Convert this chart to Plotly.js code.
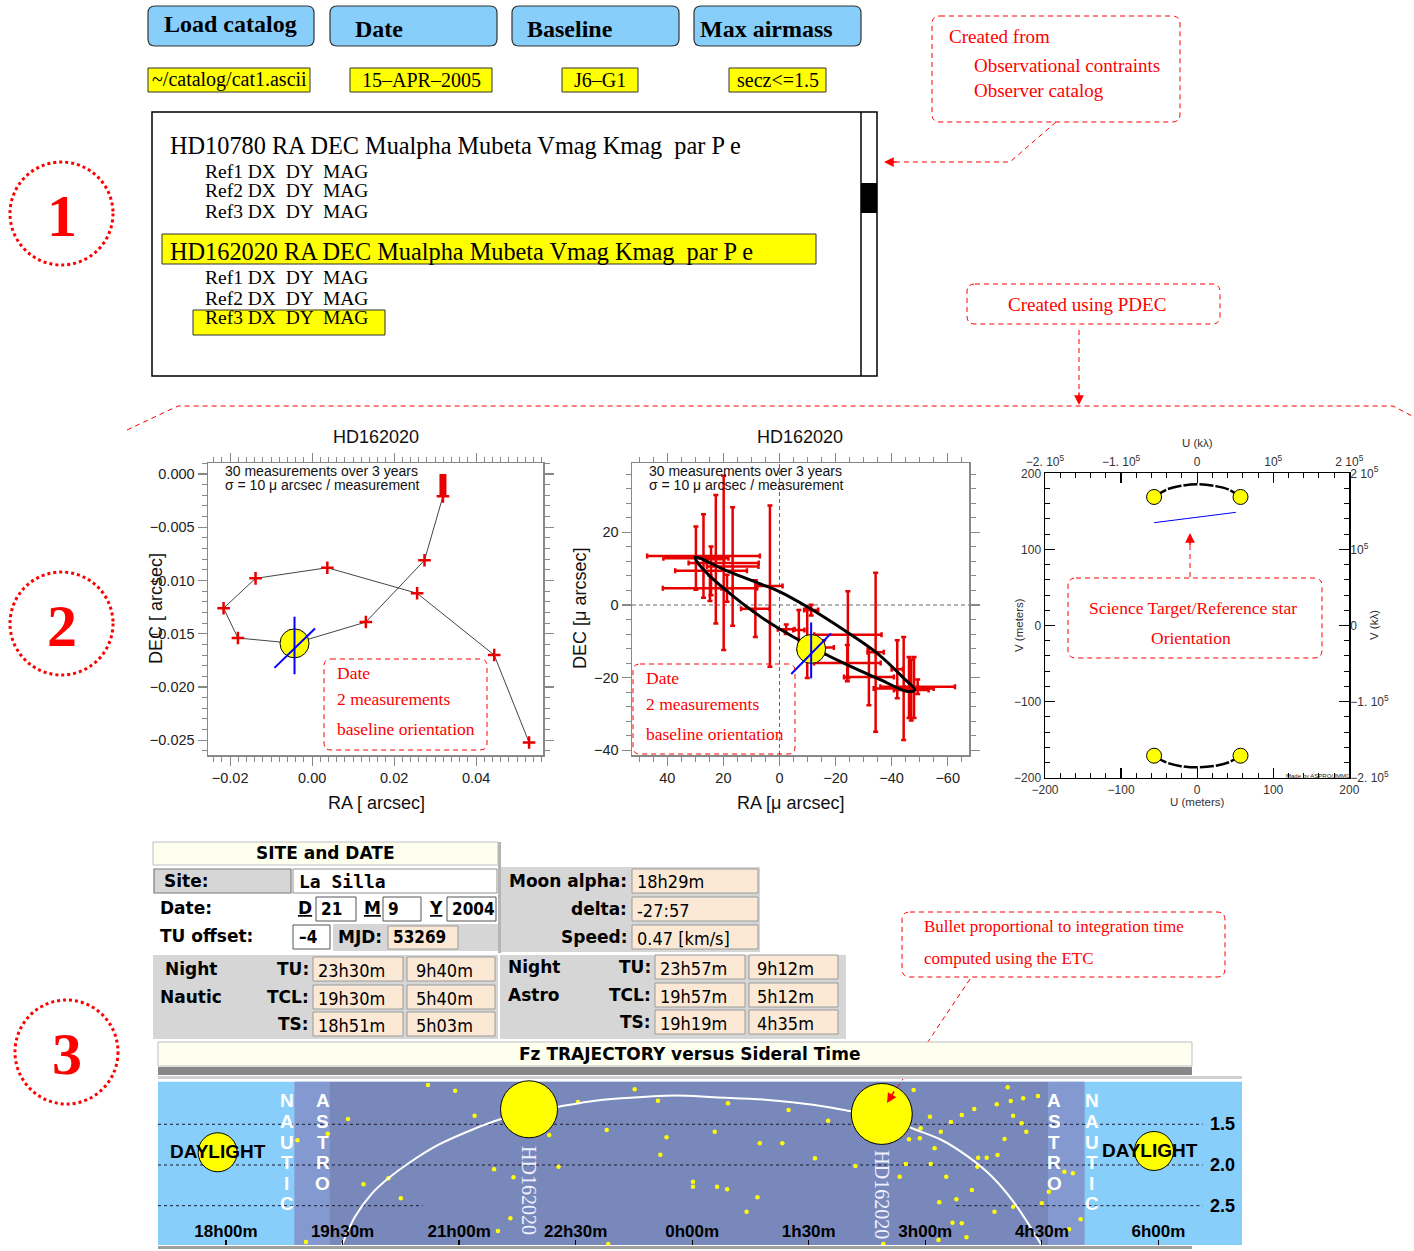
<!DOCTYPE html>
<html>
<head>
<meta charset="utf-8">
<script src="https://cdn.plot.ly/plotly-3.0.1.min.js"></script>
<style>html,body{margin:0;padding:0;background:#fff;overflow:hidden}#chart{width:1414px;height:1251px}</style>
</head>
<body>
<div id="chart"></div>
<script>
// ======================= DATA =======================
// Section 1 : catalog selection panel
const buttonLabels = ['Load catalog', 'Date', 'Baseline', 'Max airmass'];
const buttonValues = ['~/catalog/cat1.ascii', '15\u2013APR\u20132005', 'J6\u2013G1', 'secz&lt;=1.5'];
const catalogStars = ['HD10780', 'HD162020'];
const catalogFields = 'RA DEC Mualpha Mubeta Vmag Kmag  par P e';
const refStars = ['Ref1', 'Ref2', 'Ref3'];
const refFields = 'DX  DY  MAG';
const sectionNumbers = ['1', '2', '3'];
const noteCatalog = ['Created from', 'Observational contraints', 'Observer catalog'];
const notePdec = 'Created using PDEC';
const noteDate = ['Date', '2 measurements', 'baseline orientation'];
const noteUV = ['Science Target/Reference star', 'Orientation'];
const noteBullet = ['Bullet proportional to integration time', 'computed using the ETC'];
const starName = 'HD162020';
const statsText = ['30 measurements over 3 years', '\u03c3 = 10 \u03bc arcsec / measurement'];

// Section 2, plot 1 : apparent path (arcsec)
const pathRA  = [0.0529, 0.0444, 0.0256, 0.0037, -0.0138, -0.0216, -0.0181, -0.0043, 0.0131, 0.0274, 0.0319];
const pathDEC = [-0.0252, -0.0170, -0.0112, -0.0088, -0.0098, -0.0126, -0.0154, -0.0159, -0.0139, -0.0081, -0.0021];
const clusterRA  = [0.0319, 0.0320, 0.0321, 0.0320, 0.0319];
const clusterDEC = [-0.0021, -0.0016, -0.0011, -0.0005, 0.0000];
const dateA_RA = [-0.0043], dateA_DEC = [-0.0159];
const baseA_RA  = [-0.0043, -0.0043, null, -0.0092, 0.0007];
const baseA_DEC = [-0.0134, -0.0188, null, -0.0182, -0.0145];

// Section 2, plot 2 : residual orbit (micro-arcsec)
const measRA  = [27.1, 29.8, 19.9, 22.7, 24.4, 16.7, 24.8, 18.7, 3.4, 8.6, -2.4, -6.9, -9.9, -11.3, -24.4, -15.8, -24.2, -31.9, -34.3, -42.0, -44.3, -49.3, -47.0, -46.2, -48.0];
const measDEC = [13.5, 12.9, 11.6, 12.6, 9.4, 10.6, 4.6, 4.6, 5.2, -1.0, -6.7, -6.9, -10.5, -1.4, -8.2, -11.7, -16.0, -19.8, -13.0, -17.7, -23.0, -22.5, -23.4, -22.7, -22.7];
const errRA   = [20.1, 11.6, 12.5, 3.0, 12.8, 9.2, 16.8, 2.0, 4.5, 5.1, 3.0, 2.0, 2.0, 2.5, 12.0, 3.6, 11.9, 8.9, 2.9, 2.0, 10.7, 13.3, 6.2, 1.5, 1.5];
const errDEC  = [11.5, 8.7, 24.0, 17.7, 6.7, 16.3, 3.5, 3.7, 22.2, 7.8, 1.3, 5.5, 9.6, 1.5, 12.0, 2.0, 5.0, 7.8, 21.9, 8.0, 14.2, 2.0, 8.4, 8.4, 8.4];
const orbitRA  = [30.0, 18.7, 6.8, 0.0, -9.9, -23.0, -34.9, -44.4, -48.2, -45.6, -36.1, -24.2, -12.3, -2.7, 6.8, 16.3, 24.6, 29.4, 30.0];
const orbitDEC = [13.1, 9.4, 5.8, 3.7, -0.5, -6.9, -13.3, -20.2, -23.4, -23.8, -20.6, -16.5, -11.9, -7.8, -3.2, 2.3, 7.8, 11.9, 13.1];
const dateB_RA = [-11.3], dateB_DEC = [-12.1];
const baseB_RA  = [-11.3, -11.3, null, -4.2, -18.4];
const baseB_DEC = [-4.8, -20.2, null, -19.0, -7.8];

// Section 2, plot 3 : UV plane (meters)
const uvArcU    = [-56.6, -40.4, -22.8, 0.0, 23.2, 40.8, 57.0];
const uvArcV    = [168.9, 178.5, 183.3, 185.5, 183.3, 179.0, 168.9];
const uvArcLowV = [-171.1, -180.0, -184.5, -186.4, -184.5, -180.0, -171.1];
const uvEndU = [-56.6, 57.0, -56.6, 57.0];
const uvEndV = [168.9, 168.9, -171.1, -171.1];
const uvOrientU = [-56.6, 50.9];
const uvOrientV = [135.1, 148.7];
const uvTicks = [-200, -100, 0, 100, 200];
const kLambdaTicks = [-2e5, -1e5, 0, 1e5, 2e5];
const kLambdaText = ['\u22122. 10<sup>5</sup>', '\u22121. 10<sup>5</sup>', '0', '10<sup>5</sup>', '2 10<sup>5</sup>'];

// Section 3 : site & date table
const siteLabel = 'Site:', siteName = 'La Silla';
const dateParts = [['D', '21'], ['M', '9'], ['Y', '2004']];
const tuOffset = '\u20134', mjd = '53269';
const moonLabels = ['Moon alpha:', 'delta:', 'Speed:'];
const moonValues = ['18h29m', '-27:57', '0.47 [km/s]'];
const nightRows = ['TU:', 'TCL:', 'TS:'];
const nauticStart = ['23h30m', '19h30m', '18h51m'];
const nauticEnd   = ['9h40m', '5h40m', '5h03m'];
const astroStart  = ['23h57m', '19h57m', '19h19m'];
const astroEnd    = ['9h12m', '5h12m', '4h35m'];

// Section 3 : trajectory vs sidereal time (hours, airmass)
const lstTicks = [18, 19.5, 21, 22.5, 24, 25.5, 27, 28.5, 30];
const lstLabels = ['18h00m', '19h30m', '21h00m', '22h30m', '0h00m', '1h30m', '3h00m', '4h30m', '6h00m'];
const airmassLevels = [1.5, 2.0, 2.5];
const twilightLST = [18.88, 19.33, 28.58, 29.05];
const trajLST = [19.49, 19.66, 19.88, 20.09, 20.35, 20.73, 21.16, 21.53, 21.90, 22.28, 22.66, 23.09, 23.78, 24.29, 24.98, 25.58, 26.03, 26.44, 26.83, 27.21, 27.55, 27.86, 28.15, 28.50];
const trajAM  = [2.99, 2.635, 2.348, 2.163, 1.979, 1.754, 1.570, 1.439, 1.35, 1.284, 1.222, 1.181, 1.146, 1.168, 1.201, 1.263, 1.337, 1.40, 1.549, 1.693, 1.898, 2.144, 2.471, 2.99];
const bulletLST = [21.90, 26.44];
const bulletAM  = [1.316, 1.373];
const sunLST = [17.893, 29.943];
const sunAM  = [1.844, 1.828];
const starLST = [20.60,20.95,19.57,21.20,18.92,19.31,19.77,20.09,20.25,21.45,21.70,21.66,21.50,19.03,22.16,22.28,22.53,22.90,23.26,23.56,23.67,23.59,22.92,24.46,25.24,25.75,24.29,24.87,25.16,25.58,26.10,24.01,24.01,24.32,24.45,24.84,24.70,26.85,27.06,26.94,27.20,26.93,26.79,27.12,27.47,27.63,27.33,27.92,28.06,28.10,28.13,28.45,28.26,28.24,28.30,28.02,27.68,27.79,27.93,27.67,27.27,27.60,27.40,27.18,27.89,28.50,28.13,27.35,27.47,27.53,27.17,28.79,28.90,28.59,29.00,28.85,26.46,26.67,26.75,27.07];
const starAM  = [1.017,1.087,1.435,1.394,1.697,1.615,2.237,2.163,2.409,2.053,2.151,2.655,2.811,2.946,1.631,2.021,1.226,1.570,1.070,1.210,1.660,1.873,2.970,1.242,1.324,1.456,1.591,1.733,1.733,1.918,2.012,2.205,2.267,2.267,2.299,2.397,2.574,1.079,1.407,1.549,1.591,1.672,1.684,1.795,1.386,1.312,1.472,1.254,1.045,1.214,1.394,1.152,1.181,1.488,1.591,1.681,1.910,1.910,1.877,2.021,2.144,2.307,2.421,2.458,2.574,2.470,2.512,2.709,2.716,2.888,2.921,2.082,2.102,2.328,2.667,2.790,2.970,2.144,1.988,1.988];
const twilightNames = ['NAUTIC', 'ASTRO'];
const daylightText = 'DAYLIGHT';

// ======================= DRAWING =======================
const W = 1414, H = 1251;
const fx = x => x / W, fy = y => 1 - y / H;
const SERIF = 'Liberation Serif, Times New Roman, serif';
const SANS = 'Liberation Sans, Arial, Helvetica, sans-serif';
const DJ = 'DejaVu Sans, sans-serif';
const DJC = 'DejaVu Sans Condensed, DejaVu Sans, sans-serif';
const DJM = 'DejaVu Sans Mono, monospace';
const RED = '#ff0000';
const DASH = '5px,4px';
const shapes = [], ann = [];
const nbsp = s => s.replace(/  /g, ' &nbsp;');

function box(x0, y0, x1, y1, fill, lc, lw, dash) {
  shapes.push({type: 'rect', xref: 'paper', yref: 'paper', x0: fx(x0), x1: fx(x1), y0: fy(y1), y1: fy(y0),
    fillcolor: fill || 'rgba(0,0,0,0)', line: {color: lc || 'rgba(0,0,0,0)', width: lc ? (lw || 1) : 0, dash: dash || 'solid'}, layer: 'above'});
}
function rbox(x0, y0, x1, y1, r, fill, lc, lw, dash) {
  const p = (x, y) => fx(x) + ',' + fy(y);
  const d = 'M' + p(x0 + r, y0) + ' L' + p(x1 - r, y0) + ' Q' + p(x1, y0) + ' ' + p(x1, y0 + r) +
    ' L' + p(x1, y1 - r) + ' Q' + p(x1, y1) + ' ' + p(x1 - r, y1) + ' L' + p(x0 + r, y1) +
    ' Q' + p(x0, y1) + ' ' + p(x0, y1 - r) + ' L' + p(x0, y0 + r) + ' Q' + p(x0, y0) + ' ' + p(x0 + r, y0) + ' Z';
  shapes.push({type: 'path', xref: 'paper', yref: 'paper', path: d, fillcolor: fill || 'rgba(0,0,0,0)',
    line: {color: lc, width: lw, dash: dash || 'solid'}, layer: 'above'});
}
function poly(pts, color, w, dash) {
  const d = 'M' + pts.map(q => fx(q[0]) + ',' + fy(q[1])).join(' L');
  shapes.push({type: 'path', xref: 'paper', yref: 'paper', path: d, fillcolor: 'rgba(0,0,0,0)',
    line: {color: color, width: w, dash: dash || 'solid'}, layer: 'above'});
}
function ell(x0, y0, x1, y1, color, w, dash) {
  shapes.push({type: 'circle', xref: 'paper', yref: 'paper', x0: fx(x0), x1: fx(x1), y0: fy(y1), y1: fy(y0),
    fillcolor: 'rgba(0,0,0,0)', line: {color: color, width: w, dash: dash}, layer: 'above'});
}
function txt(x, y, text, size, family, color, xanchor, extra) {
  ann.push(Object.assign({xref: 'paper', yref: 'paper', x: fx(x), y: fy(y), text: text, showarrow: false,
    xanchor: xanchor || 'left', yanchor: 'middle', font: {family: family, size: size, color: color || '#000'}}, extra || {}));
}
function head(x, y, ax, ay) {
  ann.push({xref: 'paper', yref: 'paper', x: fx(x), y: fy(y), ax: ax, ay: ay, text: '', showarrow: true,
    arrowhead: 2, arrowsize: 1.3, arrowwidth: 1.5, arrowcolor: RED, standoff: 0});
}

// ---------- Section 1 ----------
const btnX = [[148, 314], [330, 497], [512, 679], [694, 861]];
const btnTextX = [230, 379, 570, 766];
const btnTextY = [24, 29, 29, 29];
buttonLabels.forEach((b, i) => {
  rbox(btnX[i][0], 6, btnX[i][1], 46, 7, '#87cefa', '#333', 1.2);
  txt(btnTextX[i], btnTextY[i], '<b>' + b + '</b>', 24, SERIF, '#000', 'center');
});
const valX = [[148, 310], [350, 492], [562, 638], [729, 826]];
buttonValues.forEach((v, i) => {
  box(valX[i][0], 68, valX[i][1], 92, '#ffff00', '#333', 1);
  txt((valX[i][0] + valX[i][1]) / 2, 80, v, 20, SERIF, '#000', 'center');
});
box(152, 112, 877, 376, '#ffffff', '#000', 1.5);
poly([[861, 112], [861, 376]], '#000', 1.5);
box(861, 183, 877, 213, '#000000');
box(162, 234, 816, 264, '#ffff00', '#333', 1);
box(193, 310, 385, 335, '#ffff00', '#333', 1);
const starY = [146, 251], refY = [[171, 191, 212], [277, 298, 318]];
catalogStars.forEach((s, i) => {
  txt(168, starY[i], nbsp(s + ' ' + catalogFields), 24.3, SERIF, '#000');
  refStars.forEach((r, j) => txt(203, refY[i][j], nbsp(r + ' ' + refFields), 19.5, SERIF, '#000'));
});

// Red notes, arrows & section circles
rbox(932, 16, 1180, 122, 8, null, RED, 1, DASH);
txt(947, 36, noteCatalog[0], 19, SERIF, RED);
txt(972, 65, noteCatalog[1], 19, SERIF, RED);
txt(972, 91, noteCatalog[2], 19, SERIF, RED);
poly([[1056, 122], [1010, 162], [896, 162]], RED, 1, DASH);
head(884, 162, 14, 0);
rbox(967, 284, 1220, 324, 8, null, RED, 1, DASH);
txt(1087, 304, notePdec, 19, SERIF, RED, 'center');
poly([[1079, 330], [1079, 392]], RED, 1, DASH);
head(1079, 405, 0, -14);
poly([[127, 430], [178, 406], [1393, 406], [1414, 417]], RED, 1, DASH);
const circY = [[10, 162, 113, 265], [10, 572, 113, 675], [15, 1000, 118, 1104]];
sectionNumbers.forEach((n, i) => {
  const c = circY[i];
  ell(c[0], c[1], c[2], c[3], RED, 3, 'dot');
  txt((c[0] + c[2]) / 2, (c[1] + c[3]) / 2 + 2, '<b>' + n + '</b>', 60, SERIF, RED, 'center');
});

// ---------- Section 2 annotations ----------
txt(376, 437, starName, 18, SANS, '#111', 'center');
txt(800, 437, starName, 18, SANS, '#111', 'center');
txt(376, 803, 'RA [ arcsec]', 18, SANS, '#111', 'center');
txt(790, 803, 'RA [\u03bc arcsec]', 18, SANS, '#111', 'center');
txt(156, 609, 'DEC [ arcsec]', 18, SANS, '#111', 'center', {textangle: -90});
txt(580, 609, 'DEC [\u03bc arcsec]', 18, SANS, '#111', 'center', {textangle: -90});
[223, 647].forEach(x => {
  txt(x, 471, statsText[0], 14, SANS, '#111');
  txt(x, 485, statsText[1], 14, SANS, '#111');
});
rbox(324, 659, 487, 750, 7, null, RED, 1, DASH);
[673, 699, 729].forEach((y, i) => txt(335, y, noteDate[i], 17.5, SERIF, RED));
rbox(633, 664, 795, 754, 7, null, RED, 1, DASH);
[678, 704, 734].forEach((y, i) => txt(644, y, noteDate[i], 17.5, SERIF, RED));
// UV plot labels
txt(1197, 443, 'U (k\u03bb)', 11.5, SANS, '#333', 'center');
txt(1197, 802, 'U (meters)', 11.5, SANS, '#333', 'center');
txt(1019, 625, 'V (meters)', 11.5, SANS, '#333', 'center', {textangle: -90});
txt(1374, 625, 'V (k\u03bb)', 11.5, SANS, '#333', 'center', {textangle: -90});
txt(1318, 776, 'Made by ASPRO/JMMC', 6, SANS, '#222', 'center');
rbox(1068, 578, 1322, 658, 8, null, RED, 1, DASH);
txt(1193, 608, noteUV[0], 17.5, SERIF, RED, 'center');
txt(1191, 638, noteUV[1], 17.5, SERIF, RED, 'center');
poly([[1190, 577], [1190, 546]], RED, 1, DASH);
head(1190, 533, 0, 14);

// ---------- Section 3 : site table ----------
box(153, 842, 498, 865, '#fffff0', '#c0c0c0', 1);
txt(325, 853, '<b>SITE and DATE</b>', 17, DJ, '#000', 'center');
box(498, 842, 501, 953, '#b5b5b5');
box(154, 869, 291, 893, '#d6d6d6', '#7a7a7a', 1.2);
txt(162, 881, '<b>' + siteLabel + '</b>', 17, DJ);
box(293, 869, 497, 893, '#ffffff', '#909090', 1);
txt(297, 881, '<b>' + siteName + '</b>', 18, DJM);
txt(158, 908, '<b>Date:</b>', 17, DJ);
const dpX = [[296, 316, 356], [362, 383, 421], [427, 447, 496]];
dateParts.forEach((d, i) => {
  txt(dpX[i][0], 908, '<b><span style="text-decoration:underline">' + d[0] + '</span></b>', 17, DJ);
  box(dpX[i][1], 897, dpX[i][2], 921, '#ffffff', '#555', 1);
  txt(dpX[i][1] + 3, 909, '<b>' + d[1] + '</b>', 17, DJC);
});
txt(158, 936, '<b>TU offset:</b>', 17, DJ);
box(293, 925, 330, 949, '#ffffff', '#555', 1);
txt(297, 937, '<b>' + tuOffset + '</b>', 17, DJC);
box(333, 924, 498, 951, '#d6d6d6');
txt(336, 937, '<b>MJD:</b>', 17, DJ);
box(388, 926, 458, 949, '#fbe9d6', '#9a9a9a', 1);
txt(391, 937, '<b>' + mjd + '</b>', 17, DJC);
box(501, 867, 760, 952, '#d6d6d6');
const moonY = [881, 909, 937];
moonLabels.forEach((l, i) => {
  txt(629, moonY[i], '<b>' + l + '</b>', 17, DJ, '#000', 'right');
  box(632, moonY[i] - 12, 758, moonY[i] + 12, '#fbe9d6', '#9a9a9a', 1);
  txt(635, moonY[i] + 1, moonValues[i], 18, DJC);
});
box(153, 955, 498, 1039, '#d6d6d6');
box(500, 955, 846, 1039, '#d6d6d6');
txt(163, 969, '<b>Night</b>', 17, DJ);
txt(158, 997, '<b>Nautic</b>', 17, DJ);
txt(506, 967, '<b>Night</b>', 17, DJ);
txt(506, 995, '<b>Astro</b>', 17, DJ);
const rowY = [969, 997, 1024];
nightRows.forEach((r, i) => {
  const y = rowY[i];
  txt(311, y, '<b>' + r + '</b>', 17, DJ, '#000', 'right');
  txt(653, y - 2, '<b>' + r + '</b>', 17, DJ, '#000', 'right');
  box(313, y - 12, 403, y + 12, '#fbe9d6', '#9a9a9a', 1);
  box(407, y - 12, 495, y + 12, '#fbe9d6', '#9a9a9a', 1);
  box(655, y - 14, 745, y + 10, '#fbe9d6', '#9a9a9a', 1);
  box(749, y - 14, 838, y + 10, '#fbe9d6', '#9a9a9a', 1);
  txt(316, y + 1, nauticStart[i], 18, DJC);
  txt(414, y + 1, nauticEnd[i], 18, DJC);
  txt(658, y - 1, astroStart[i], 18, DJC);
  txt(755, y - 1, astroEnd[i], 18, DJC);
});

// Bullet note
rbox(902, 912, 1225, 977, 8, null, RED, 1, DASH);
txt(922, 927, noteBullet[0], 17, SERIF, RED);
txt(922, 958, noteBullet[1], 17, SERIF, RED);
poly([[970, 979], [895, 1091]], RED, 1, DASH);
head(887, 1103, 8, -13);

// Trajectory header & frames
box(158, 1042, 1192, 1066, '#fffff0', '#bdbdbd', 1);
txt(689, 1054, '<b>Fz TRAJECTORY versus Sideral Time</b>', 17, DJ, '#000', 'center');
box(158, 1067, 1192, 1075, '#888888');
box(158, 1076, 1242, 1079, '#d0d0d0');
box(158, 1246, 1192, 1249, '#a0a0a0');

// Trajectory background bands (data coordinates)
const bandShape = (x0, x1, color) => ({type: 'rect', xref: 'x5', yref: 'y5 domain', x0: x0, x1: x1, y0: 0, y1: 1,
  fillcolor: color, line: {width: 0}, layer: 'below'});
shapes.push({type: 'rect', xref: 'x5 domain', yref: 'y5 domain', x0: 0, x1: 1, y0: 0, y1: 1, fillcolor: '#87cefa', line: {width: 0}, layer: 'below'});
shapes.push(bandShape(twilightLST[0], twilightLST[1], '#8399cf'));
shapes.push(bandShape(twilightLST[1], twilightLST[2], '#7888bb'));
shapes.push(bandShape(twilightLST[2], twilightLST[3], '#8399cf'));
const amLine = (am, x0, x1) => ({type: 'line', xref: 'x5', yref: 'y5', x0: x0, x1: x1, y0: am, y1: am,
  line: {color: '#1c1c30', width: 1, dash: 'dot'}, layer: 'below'});
shapes.push(amLine(airmassLevels[0], 17.125, 30.57));
shapes.push(amLine(airmassLevels[1], 17.125, 30.57));
shapes.push(amLine(airmassLevels[2], 17.125, 20.53));
shapes.push(amLine(airmassLevels[2], 27.40, 30.57));
airmassLevels.forEach(a => ann.push({xref: 'x5', yref: 'y5', x: 30.82, y: a, text: '<b>' + a.toFixed(1) + '</b>', showarrow: false,
  xanchor: 'center', yanchor: 'middle', font: {family: SANS, size: 18, color: '#000'}}));
sunLST.forEach((x, i) => ann.push({xref: 'x5', yref: 'y5', x: [17.893, 29.892][i], y: [1.837, 1.816][i], text: '<b>' + daylightText + '</b>',
  showarrow: false, xanchor: 'center', yanchor: 'middle', font: {family: SANS, size: 19, color: '#000'}}));
bulletLST.forEach((x, i) => ann.push({xref: 'x5', yref: 'y5', x: x, y: [2.309, 2.37][i], text: starName, textangle: 90,
  showarrow: false, xanchor: 'center', yanchor: 'middle', font: {family: SERIF, size: 20, color: '#eef0ff'}}));
const letterCols = [[twilightNames[0], 18.785], [twilightNames[1], 19.248], [twilightNames[1], 28.66], [twilightNames[0], 29.14]];
letterCols.forEach(c => {
  c[0].split('').forEach((ch, k) => {
    const yPix = 1101 + k * 20.6;
    ann.push({xref: 'x5', yref: 'y5', x: c[1], y: 1.5 + (yPix - 1124.3) / 81.4, text: '<b>' + ch + '</b>', showarrow: false,
      xanchor: 'center', yanchor: 'middle', font: {family: SANS, size: 19, color: '#ffffff'}});
  });
});

// ======================= TRACES =======================
const RedM = '#e80000';
const traces = [
  // plot 1
  {x: pathRA, y: pathDEC, xaxis: 'x', yaxis: 'y', mode: 'lines+markers', line: {color: '#444', width: 1},
   marker: {symbol: 'cross-thin', size: 9, color: RedM, line: {color: RedM, width: 2.5}}},
  {x: clusterRA, y: clusterDEC, xaxis: 'x', yaxis: 'y', mode: 'lines', line: {color: RedM, width: 7}},
  {x: dateA_RA, y: dateA_DEC, xaxis: 'x', yaxis: 'y', mode: 'markers', marker: {size: 29, color: '#ffff00', opacity: 1, line: {color: '#000', width: 1}}},
  {x: baseA_RA, y: baseA_DEC, xaxis: 'x', yaxis: 'y', mode: 'lines', line: {color: '#0000ff', width: 2}},
  // plot 2
  {x: measRA, y: measDEC, xaxis: 'x2', yaxis: 'y2', mode: 'markers', marker: {size: 2, color: RedM},
   error_x: {type: 'data', array: errRA, color: RedM, thickness: 2.5, width: 2.5},
   error_y: {type: 'data', array: errDEC, color: RedM, thickness: 2.5, width: 2.5}},
  {x: orbitRA, y: orbitDEC, xaxis: 'x2', yaxis: 'y2', mode: 'lines', line: {color: '#000', width: 3, shape: 'spline', smoothing: 1}},
  {x: dateB_RA, y: dateB_DEC, xaxis: 'x2', yaxis: 'y2', mode: 'markers', marker: {size: 29, color: '#ffff00', opacity: 1, line: {color: '#000', width: 1}}},
  {x: baseB_RA, y: baseB_DEC, xaxis: 'x2', yaxis: 'y2', mode: 'lines', line: {color: '#0000ff', width: 2}},
  // plot 3
  {x: uvArcU, y: uvArcV, xaxis: 'x3', yaxis: 'y3', mode: 'lines', line: {color: '#000', width: 2.5, shape: 'spline', dash: '14px,2px'}},
  {x: uvArcU, y: uvArcLowV, xaxis: 'x3', yaxis: 'y3', mode: 'lines', line: {color: '#000', width: 2.5, shape: 'spline', dash: '14px,2px'}},
  {x: uvOrientU, y: uvOrientV, xaxis: 'x3', yaxis: 'y3', mode: 'lines', line: {color: '#0000ff', width: 1}},
  {x: uvEndU, y: uvEndV, xaxis: 'x3', yaxis: 'y3', mode: 'markers', marker: {size: 15, color: '#ffff00', opacity: 1, line: {color: '#000', width: 1}}},
  {x: [], y: [], xaxis: 'x4', yaxis: 'y4', mode: 'markers'},
  // trajectory
  {x: starLST, y: starAM, xaxis: 'x5', yaxis: 'y5', mode: 'markers', marker: {size: 4.5, color: '#ffff00', opacity: 1}},
  {x: trajLST, y: trajAM, xaxis: 'x5', yaxis: 'y5', mode: 'lines', line: {color: '#ffffff', width: 2, shape: 'spline'}},
  {x: sunLST, y: sunAM, xaxis: 'x5', yaxis: 'y5', mode: 'markers', marker: {size: 39, color: '#ffff00', opacity: 1, line: {color: '#000', width: 1}}},
  {x: bulletLST, y: bulletAM, xaxis: 'x5', yaxis: 'y5', mode: 'markers', cliponaxis: false,
   marker: {size: [57, 61], color: '#ffff00', opacity: 1, line: {color: '#000', width: 1}}}
];

// ======================= AXES =======================
const tickFont = {family: SANS, size: 14.5, color: '#222'};
const frameAxis = o => Object.assign({showline: true, linecolor: '#888', linewidth: 1.5, mirror: 'ticks', ticks: 'outside',
  ticklen: 9, tickwidth: 1.2, tickcolor: '#888', showgrid: false, zeroline: false, tickfont: tickFont, fixedrange: true}, o);
const minorOut = d => ({dtick: d, tick0: 0, ticks: 'outside', ticklen: 5, tickwidth: 1, tickcolor: '#888'});
const uvFont = {family: SANS, size: 12, color: '#333'};
const uvAxis = o => Object.assign({showline: true, linecolor: '#000', linewidth: 1.5, mirror: 'ticks', ticks: 'inside',
  ticklen: 10, tickwidth: 1.2, tickcolor: '#000', showgrid: false, zeroline: false, range: [-200, 200],
  tickmode: 'array', tickvals: uvTicks, tickfont: uvFont,
  minor: {dtick: 20, tick0: 0, ticks: 'inside', ticklen: 5, tickcolor: '#000', tickwidth: 1}}, o);

const layout = {
  width: W, height: H, margin: {l: 0, r: 0, t: 0, b: 0}, paper_bgcolor: '#ffffff', plot_bgcolor: '#ffffff',
  showlegend: false, hovermode: false,
  xaxis: frameAxis({domain: [fx(208), fx(543)], anchor: 'y', range: [-0.0254, 0.0563], dtick: 0.02, tick0: 0, tickformat: '.2f', minor: minorOut(0.002)}),
  yaxis: frameAxis({domain: [fy(755), fy(463)], anchor: 'x', range: [-0.02638, 0.00103], dtick: 0.005, tick0: 0, tickformat: '.3f', minor: minorOut(0.001)}),
  xaxis2: frameAxis({domain: [fx(632), fx(969)], anchor: 'y2', range: [52.6, -67.6], dtick: 20, tick0: 0, minor: minorOut(5)}),
  yaxis2: frameAxis({domain: [fy(755), fy(463)], anchor: 'x2', range: [-41.3, 39.1], dtick: 20, tick0: 0, minor: minorOut(4)}),
  xaxis3: uvAxis({domain: [fx(1045), fx(1349.3)], anchor: 'y3'}),
  yaxis3: uvAxis({domain: [fy(777.7), fy(473.3)], anchor: 'x3'}),
  xaxis4: {overlaying: 'x3', side: 'top', anchor: 'y3', range: [-2e5, 2e5], tickmode: 'array', tickvals: kLambdaTicks, ticktext: kLambdaText,
    ticks: '', ticklabelstandoff: 4, showline: false, showgrid: false, zeroline: false, tickfont: uvFont},
  yaxis4: {overlaying: 'y3', side: 'right', anchor: 'x3', range: [-2e5, 2e5], tickmode: 'array', tickvals: kLambdaTicks, ticktext: kLambdaText,
    ticks: '', showline: false, showgrid: false, zeroline: false, tickfont: uvFont},
  xaxis5: {domain: [fx(158), fx(1242)], anchor: 'y5', range: [17.125, 31.076], tickmode: 'array', tickvals: lstTicks, ticktext: lstLabels,
    ticks: 'inside', ticklen: 5, tickwidth: 1.2, tickcolor: '#000', ticklabelposition: 'inside', showline: false, showgrid: false, zeroline: false,
    tickfont: {family: SANS, size: 17, color: '#000', weight: 'bold'}},
  yaxis5: {domain: [fy(1245), fy(1081.7)], anchor: 'x5', range: [2.983, 0.977], showticklabels: false, ticks: '', showline: false,
    showgrid: false, zeroline: false},
  shapes: shapes.concat([
    {type: 'line', xref: 'x2', yref: 'y2 domain', x0: 0, x1: 0, y0: 0, y1: 1, line: {color: '#666', width: 1, dash: '4px,3px'}, layer: 'below'},
    {type: 'line', xref: 'x2 domain', yref: 'y2', x0: 0, x1: 1, y0: 0, y1: 0, line: {color: '#666', width: 1, dash: '4px,3px'}, layer: 'below'}
  ]),
  annotations: ann
};

Plotly.newPlot('chart', traces, layout, {displayModeBar: false, staticPlot: true});
</script>
</body>
</html>
